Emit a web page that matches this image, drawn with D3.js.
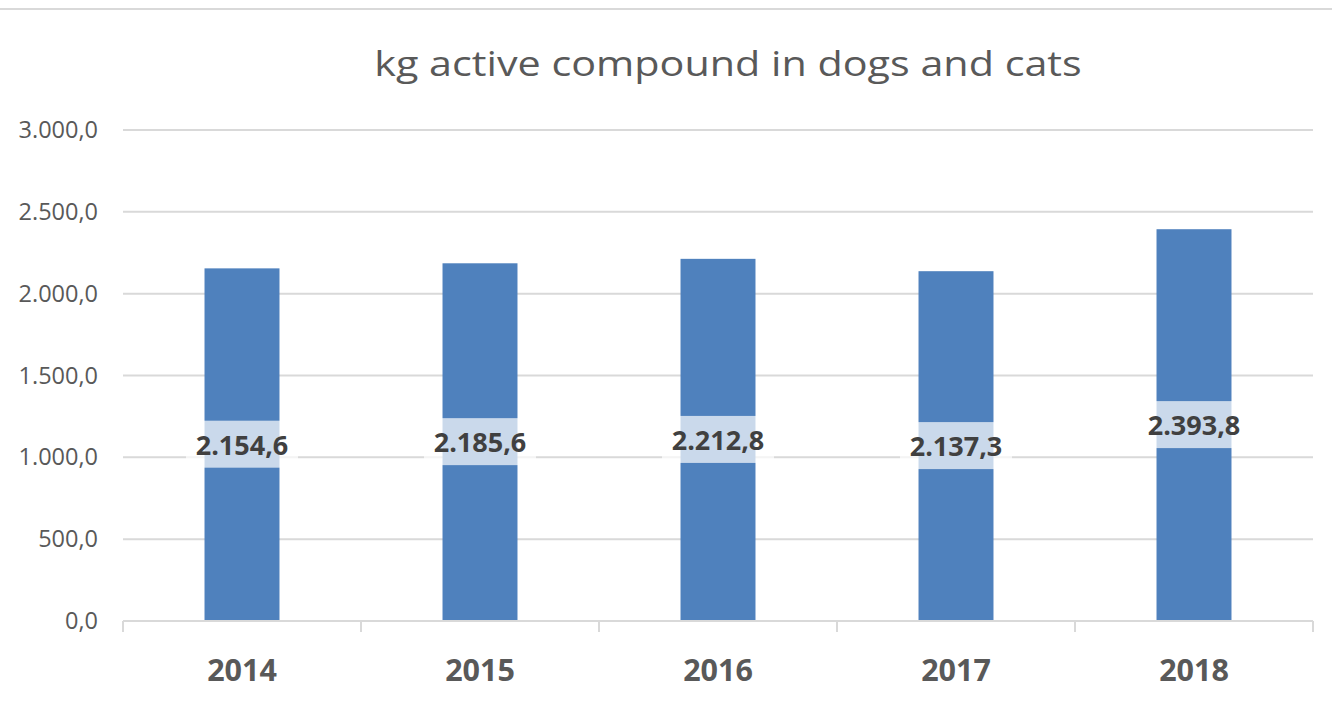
<!DOCTYPE html>
<html><head><meta charset="utf-8">
<script src="https://cdn.jsdelivr.net/npm/d3@7"></script>
<style>body{margin:0;background:#fff;}svg{display:block;font-family:"Open Sans",sans-serif;}</style>
</head><body>
<svg id="c" width="1332" height="706"></svg>
<script>
const categories = ["2014","2015","2016","2017","2018"];
const values = [2154.6, 2185.6, 2212.8, 2137.3, 2393.8];
const yTicks = [0,500,1000,1500,2000,2500,3000];
const title = "kg active compound in dogs and cats";

const FONT = "'Open Sans',sans-serif";
const svg = d3.select("#c");
const fmt = v => {
  const s = d3.format(",.1f")(v);
  return s.replace(/,/g,"X").replace(/\./g,",").replace(/X/g,".");
};
const x = d3.scaleBand().domain(categories).range([123,1313]).paddingInner(0.685).paddingOuter(0.3425);
const y = d3.scaleLinear().domain([0,3000]).range([621,130]);

svg.append("line").attr("x1",0).attr("x2",1332).attr("y1",9).attr("y2",9).attr("stroke","#d9d9d9").attr("stroke-width",2);

svg.append("g").attr("transform","translate(728,76) scale(1.18,1)")
  .append("text").attr("text-anchor","middle")
  .attr("font-size",35).attr("fill","#595959").text(title);

// gridlines
svg.append("g").selectAll("line").data(yTicks.filter(d=>d>0)).join("line")
  .attr("x1",123).attr("x2",1313).attr("y1",d=>y(d)).attr("y2",d=>y(d))
  .attr("stroke","#d9d9d9").attr("stroke-width",2);

// y axis labels
const ya = svg.append("g").attr("transform","translate(98,0)")
  .call(d3.axisLeft(y).tickValues(yTicks).tickFormat(fmt).tickSize(0).tickPadding(0));
ya.select(".domain").remove();
ya.selectAll("text").attr("font-size",23.5).attr("fill","#595959").attr("font-family",FONT);

// bars
svg.append("g").selectAll("rect").data(values).join("rect")
  .attr("x",(d,i)=>x(categories[i])).attr("width",x.bandwidth())
  .attr("y",d=>y(d)).attr("height",d=>y(0)-y(d)).attr("fill","#4f81bd");

// x axis
const step = (1313-123)/categories.length;
const xa = svg.append("g").attr("transform","translate(0,621)")
  .call(d3.axisBottom(x).tickSize(0).tickPadding(38));
xa.select(".domain").attr("stroke","#d9d9d9").attr("stroke-width",2).attr("d","M123,0H1313");
xa.selectAll("text").attr("font-size",30.5).attr("font-weight","bold").attr("fill","#595959").attr("font-family",FONT);
svg.append("g").selectAll("line").data(d3.range(categories.length+1)).join("line")
  .attr("x1",i=>123+i*step).attr("x2",i=>123+i*step).attr("y1",621).attr("y2",632)
  .attr("stroke","#d9d9d9").attr("stroke-width",2);

// labels
const lg = svg.append("g").selectAll("g").data(values).join("g")
  .attr("transform",(d,i)=>`translate(${x(categories[i])+x.bandwidth()/2},${(y(d)+y(0))/2})`);
lg.append("rect").attr("x",-56).attr("y",-24).attr("width",112).attr("height",47)
  .attr("fill","#fff").attr("fill-opacity",0.7);
lg.append("text").attr("text-anchor","middle").attr("dy","0.38em").attr("font-size",27)
  .attr("font-weight","bold").attr("fill","#404040").text(d=>fmt(d));
</script>
</body></html>
